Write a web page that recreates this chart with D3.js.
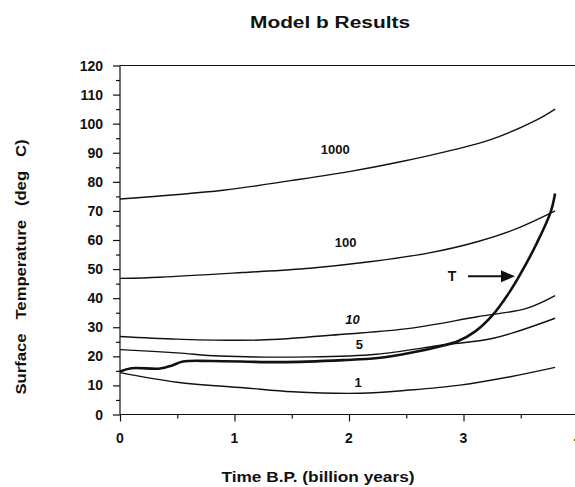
<!DOCTYPE html>
<html><head><meta charset="utf-8">
<script src="https://cdn.jsdelivr.net/npm/d3@7"></script>
<style>
body{margin:0;background:#fff;}
svg text{font-family:"Liberation Sans",Arial,Helvetica,sans-serif;font-weight:bold;fill:#111;}
</style></head>
<body><svg id="c" width="575" height="487"></svg>
<script>
const title = "Model b Results";
const xLabel = "Time B.P. (billion years)";
const yLabel = "Surface   Temperature   (deg   C)";
const xTicks = [0,1,2,3,4];
const yTicks = [0,10,20,30,40,50,60,70,80,90,100,110,120];

const c1000 = [[0,74.1],[0.9,77.1],[1.49,80.4],[2.0,83.5],[2.45,86.9],[2.91,91],[3.23,94.4],[3.64,101.3],[3.8,105]];
const c100  = [[0,46.8],[0.35,47.2],[1.07,48.8],[1.66,50.3],[2.18,52.5],[2.68,55.4],[3.12,59.4],[3.47,64],[3.8,70]];
const c10   = [[0,26.8],[0.5,25.9],[1.22,25.6],[1.95,27.6],[2.53,29.6],[3.12,33.6],[3.55,36.5],[3.8,40.9]];
const c5    = [[0,22.3],[0.5,21.2],[0.87,20.1],[1.66,19.8],[2.24,20.7],[2.82,23.9],[3.26,26.2],[3.8,33.1]];
const c1    = [[0,14.4],[0.5,11.1],[1.08,9.2],[1.51,7.8],[2.1,7.3],[2.53,8.4],[2.97,10.1],[3.41,13],[3.8,16.2]];
const cT    = [[0,14.8],[0.1,15.9],[0.35,15.8],[0.45,16.8],[0.55,18.2],[0.8,18.4],[1.4,18.0],[1.95,18.7],[2.25,19.4],[2.55,21.3],[2.8,23.5],[2.95,25.2],[3.1,28.5],[3.25,34],[3.4,42],[3.5,48.5],[3.64,58.9],[3.76,69.5],[3.8,76]];

const curveLabels = [{t:"1000",x:1.88,y:91.3},{t:"100",x:1.97,y:59.4},{t:"10",x:2.03,y:32.8,it:true},{t:"5",x:2.09,y:24.1},{t:"1",x:2.08,y:11.3}];
const arrowLabel = {t:"T",x:2.9,y:47.5};
const arrow = [[3.04,47.5],[3.45,47.5]];

const svg = d3.select("#c");
const x = d3.scaleLinear().domain([0,4]).range([120,578]);
const y = d3.scaleLinear().domain([0,120]).range([414.5,65.5]);

// top frame line
svg.append("line").attr("x1",x(0)).attr("x2",575).attr("y1",y(120)).attr("y2",y(120)).attr("stroke","#111").attr("stroke-width",1.2);

// x axis
const xa = svg.append("g").attr("transform",`translate(0,${y(0)})`);
xa.call(d3.axisBottom(x).tickValues(d3.range(0,4.01,0.5)).tickSize(4).tickFormat(""));
xa.selectAll(".tick line").attr("y2",d=>Number.isInteger(d)?7:4);
xa.select(".domain").attr("d",`M${x(0)},0H575`);
xa.selectAll("path,line").attr("stroke","#111").attr("stroke-width",1.2);
svg.append("g").selectAll("text").data(xTicks).join("text")
  .attr("x",d=>x(d)).attr("y",443).attr("text-anchor","middle").attr("font-size",14).text(d=>d);

// y axis
const ya = svg.append("g").attr("transform",`translate(${x(0)},0)`);
ya.call(d3.axisLeft(y).tickValues(d3.range(0,121,5)).tickSize(4).tickFormat(""));
ya.selectAll(".tick line").attr("x2",d=>d%10===0?-7:-4);
ya.select(".domain").attr("d",`M0,${y(0)}V${y(120)}`);
ya.selectAll("path,line").attr("stroke","#111").attr("stroke-width",1.2);
svg.append("g").selectAll("text").data(yTicks).join("text")
  .attr("x",103).attr("y",d=>y(d)+5).attr("text-anchor","end").attr("font-size",14).text(d=>d);

// curves
const line = d3.line().x(d=>x(d[0])).y(d=>y(d[1])).curve(d3.curveCatmullRom.alpha(0.5));
[c1000,c100,c10,c5,c1].forEach(c=>{
  svg.append("path").attr("d",line(c)).attr("fill","none").attr("stroke","#111").attr("stroke-width",1.4);
});
svg.append("path").attr("d",line(cT)).attr("fill","none").attr("stroke","#111").attr("stroke-width",2.6);

// curve labels
svg.append("g").selectAll("text").data(curveLabels).join("text")
  .attr("x",d=>x(d.x)).attr("y",d=>y(d.y)+5).attr("text-anchor","middle").attr("font-size",13)
  .attr("font-style",d=>d.it?"italic":"normal").text(d=>d.t);

// T arrow
svg.append("text").attr("x",x(arrowLabel.x)).attr("y",y(arrowLabel.y)+5).attr("text-anchor","middle").attr("font-size",14).text(arrowLabel.t);
svg.append("line").attr("x1",x(arrow[0][0])).attr("x2",x(arrow[1][0])-10).attr("y1",y(arrow[0][1])).attr("y2",y(arrow[1][1]))
  .attr("stroke","#111").attr("stroke-width",2);
const ax = x(arrow[1][0]), ay = y(arrow[1][1]);
svg.append("path").attr("d",`M${ax},${ay}L${ax-14},${ay-6}L${ax-14},${ay+6}Z`).attr("fill","#111");

// titles
svg.append("text").attr("x",330).attr("y",28).attr("text-anchor","middle").attr("font-size",16)
  .attr("textLength",160).attr("lengthAdjust","spacingAndGlyphs").text(title);
svg.append("text").attr("x",318).attr("y",482).attr("text-anchor","middle").attr("font-size",14)
  .attr("textLength",193).attr("lengthAdjust","spacingAndGlyphs").text(xLabel);
svg.append("text").attr("transform","translate(26,267) rotate(-90)").attr("text-anchor","middle").attr("font-size",14)
  .attr("xml:space","preserve").style("white-space","pre")
  .attr("textLength",255).attr("lengthAdjust","spacingAndGlyphs").text(yLabel);
</script></body></html>
